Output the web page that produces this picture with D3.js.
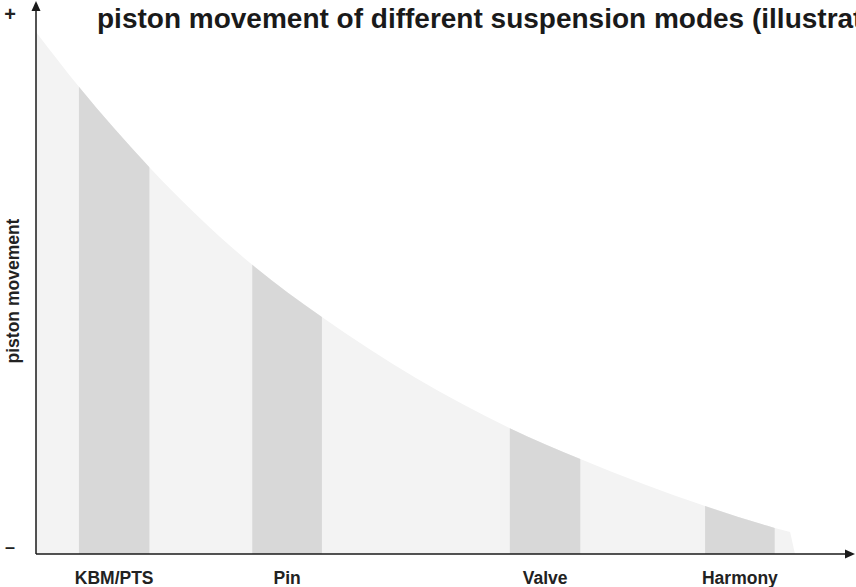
<!DOCTYPE html>
<html><head><meta charset="utf-8">
<script src="https://cdn.jsdelivr.net/npm/d3@7/dist/d3.min.js"></script>
<style>html,body{margin:0;padding:0;background:#fff;overflow:hidden}</style>
</head><body>
<svg id="c" width="856" height="587"></svg>
<script>
// curve of piston movement (x in arbitrary units 0..100, y in % of max)
const curveX = [0, 5.3, 14.0, 26.7, 35.3, 58.5, 67.2, 82.6, 91.2, 93.1, 93.7];
const curveY = [100, 89.5, 74.1, 55.4, 45.4, 24.1, 18.2, 9.2, 5.0, 4.2, 0];
// suspension modes and their band ranges along x
const categories = ["KBM/PTS", "Pin", "Valve", "Harmony"];
const bandStart = [5.3, 26.7, 58.5, 82.6];
const bandEnd = [14.0, 35.3, 67.2, 91.2];
const yTickLabels = ["+", "–"];
const title = "piston movement of different suspension modes (illustrative)";
const yLabel = "piston movement";

const svg = d3.select("#c");
const x0 = 36, x1 = 846, yb = 554, yt = 32;
const x = d3.scaleLinear().domain([0, 100]).range([x0, x1]);
const y = d3.scaleLinear().domain([0, 100]).range([yb, yt]);
const pts = curveX.map((v, i) => [v, curveY[i]]);

// smooth part + straight drop at the end
const smoothPts = pts.slice(0, pts.length - 1);
const last = pts[pts.length - 1];
const pathD = d3.line().x(d => x(d[0])).y(d => y(d[1])).curve(d3.curveMonotoneX)(smoothPts)
  + `L${x(last[0])},${y(last[1])}L${x(0)},${y(0)}Z`;

svg.append("path").attr("d", pathD).attr("fill", "#f3f3f3");

svg.append("clipPath").attr("id", "cc").append("path").attr("d", pathD);
const g = svg.append("g").attr("clip-path", "url(#cc)");
g.selectAll("rect").data(categories).join("rect")
  .attr("x", (d, i) => x(bandStart[i]))
  .attr("width", (d, i) => x(bandEnd[i]) - x(bandStart[i]))
  .attr("y", y(100)).attr("height", y(0) - y(100))
  .attr("fill", "#d8d8d8");

// axes
const ax = svg.append("g").attr("stroke", "#1a1a1a").attr("stroke-width", 1.5).attr("fill", "none");
ax.append("line").attr("x1", x0).attr("x2", x0).attr("y1", yb).attr("y2", 8);
ax.append("line").attr("x1", x0).attr("x2", 848).attr("y1", yb).attr("y2", yb);
svg.append("path").attr("d", `M${x0},1 L${x0 - 4.5},11 L${x0 + 4.5},11 Z`).attr("fill", "#1a1a1a");
svg.append("path").attr("d", `M855,${yb} L845,${yb - 4.5} L845,${yb + 4.5} Z`).attr("fill", "#1a1a1a");

const F = "Liberation Sans, Arial, sans-serif";
// labels
svg.selectAll("text.cat").data(categories).join("text").attr("class", "cat")
  .attr("x", (d, i) => x((bandStart[i] + bandEnd[i]) / 2)).attr("y", 584)
  .attr("text-anchor", "middle").attr("font-family", F).attr("font-weight", "bold")
  .attr("font-size", 17.5).attr("fill", "#222").text(d => d);

svg.append("text").attr("x", 10).attr("y", 21).attr("text-anchor", "middle")
  .attr("font-family", F).attr("font-weight", "bold").attr("font-size", 20)
  .attr("fill", "#222").text(yTickLabels[0]);
svg.append("text").attr("x", 10).attr("y", 553).attr("text-anchor", "middle")
  .attr("font-family", F).attr("font-weight", "bold").attr("font-size", 18)
  .attr("fill", "#222").text(yTickLabels[1]);

svg.append("text").attr("transform", "translate(19,291) rotate(-90)").attr("text-anchor", "middle")
  .attr("font-family", F).attr("font-weight", "bold").attr("font-size", 17.5)
  .attr("fill", "#222").text(yLabel);

svg.append("text").attr("x", 97).attr("y", 28)
  .attr("font-family", F).attr("font-weight", "bold").attr("font-size", 28)
  .attr("fill", "#1a1a1a").text(title);
</script>
</body></html>
